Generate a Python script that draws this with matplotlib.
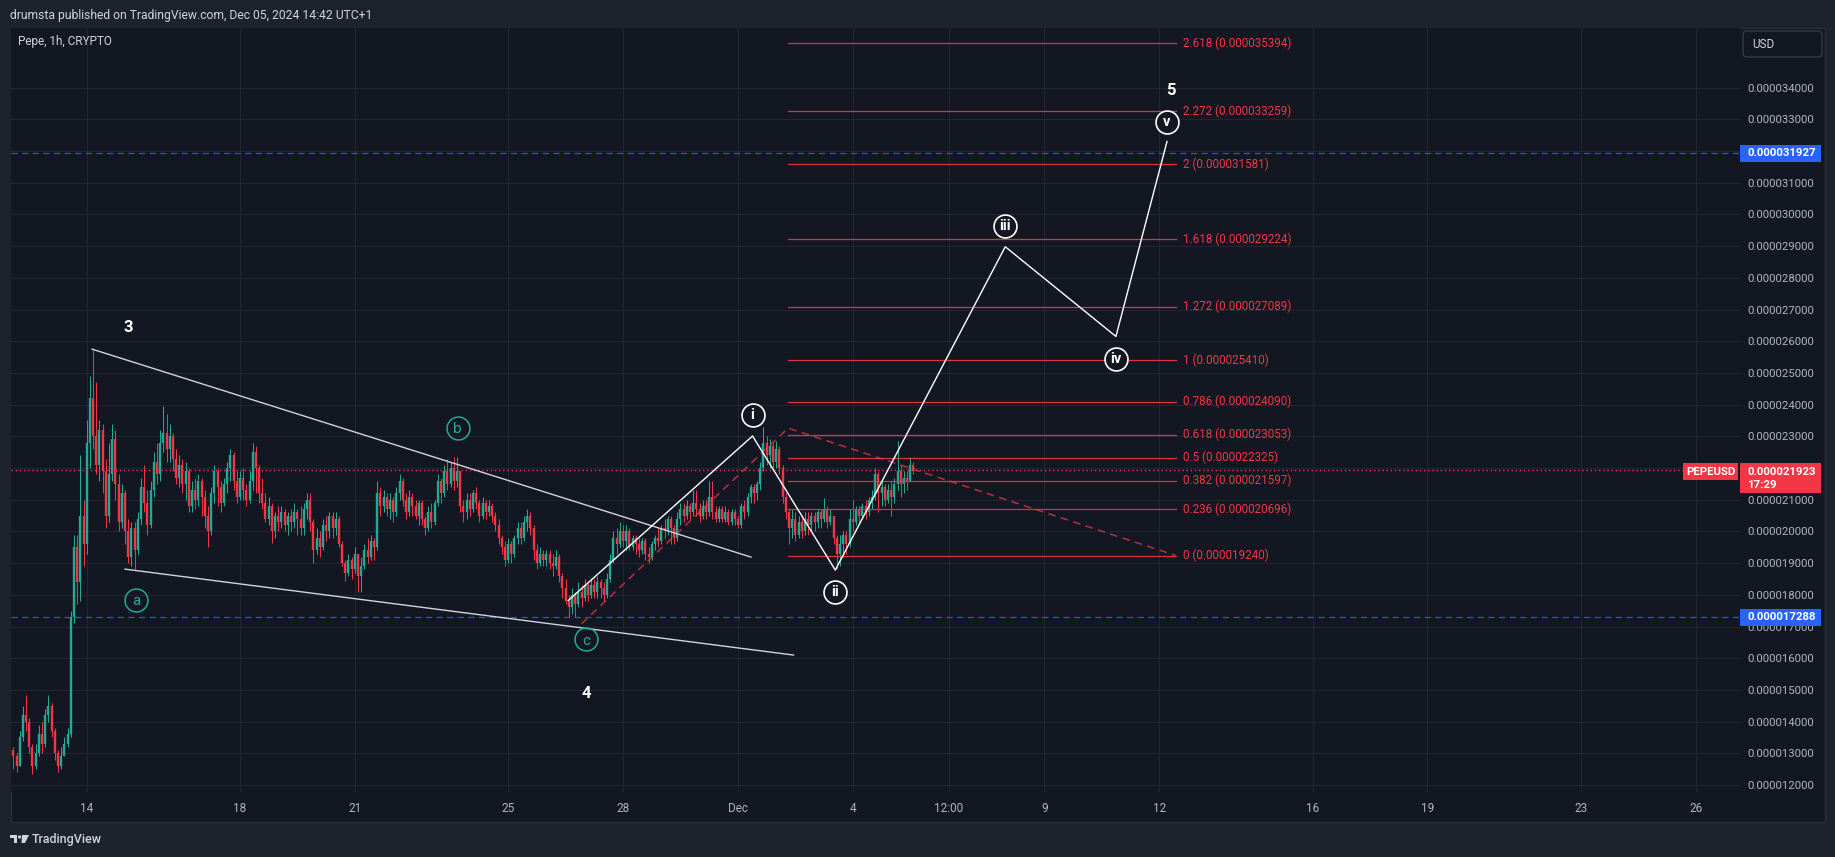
import matplotlib.pyplot as plt
import numpy as np
import pandas as pd
from matplotlib.patches import Rectangle, FancyBboxPatch, Circle, Polygon
from matplotlib.transforms import IdentityTransform, blended_transform_factory

plt.rcParams['font.family'] = ['Roboto', 'DejaVu Sans']

W, H = 1835, 857
OUTER = '#1e222d'
PANE = '#131722'
GRIDC = '#232632'
TXT = '#b2b5be'
UP = '#22ab94'
DOWN = '#f23645'
BLUE = '#2962ff'

# ---- PEPEUSD 2h candles, prices in millionths of USD ----
start = '2024-11-12 02:00'
first_open = 13.1
close = [
    12.9, 12.6, 13.5, 14.2, 14.0, 13.2, 12.6, 13.0, 13.6, 13.3,
    14.2, 14.5, 13.7, 13.0, 12.6, 12.9, 13.3, 13.6, 17.3, 19.5,
    18.4, 20.5, 19.6, 22.8, 24.2, 23.0, 22.1, 23.2, 21.9, 20.5,
    21.8, 22.9, 21.5, 20.3, 21.2, 20.0, 19.2, 20.1, 19.4, 20.4,
    21.4, 20.9, 20.2, 21.3, 22.2, 21.8, 22.8, 23.1, 22.6, 23.0,
    22.3, 21.7, 22.1, 21.5, 21.9, 20.8, 21.3, 21.0, 21.6, 21.1,
    20.5, 20.0, 21.2, 21.9, 21.4, 20.9, 21.5, 22.0, 22.4, 21.6,
    21.1, 21.7, 21.3, 21.0, 21.6, 22.5, 22.0, 21.2, 20.9, 20.4,
    20.8, 20.0, 20.5, 20.3, 20.6, 20.2, 20.5, 20.3, 20.6, 20.4,
    20.1, 20.7, 21.0, 20.3, 19.4, 19.8, 19.5, 20.2, 20.0, 20.5,
    20.1, 20.4, 19.6, 19.0, 18.7, 19.1, 18.8, 19.3, 18.6, 18.9,
    19.4, 19.2, 19.7, 19.5, 21.2, 20.8, 21.1, 20.7, 21.0, 20.6,
    21.2, 21.6, 21.0, 20.6, 21.1, 20.8, 20.5, 20.9, 20.4, 20.1,
    20.6, 20.3, 20.9, 21.6, 21.2, 21.9, 21.5, 22.0, 21.6, 21.9,
    20.8, 20.6, 21.0, 20.7, 21.2, 20.9, 20.5, 20.9, 20.6, 20.8,
    20.5, 20.2, 19.8, 19.5, 19.1, 19.6, 19.3, 19.8, 20.1, 19.8,
    20.3, 20.5, 20.1, 19.4, 19.0, 19.3, 19.1, 19.3, 19.0, 18.9,
    19.2, 18.6, 18.2, 17.8, 17.6, 18.0, 17.7, 18.1, 17.9, 18.3,
    18.0, 18.3, 18.1, 18.4, 18.2, 18.0, 18.5, 19.1, 19.8, 19.6,
    20.0, 19.7, 20.0, 19.5, 19.8, 19.6, 19.4, 19.7, 19.3, 19.2,
    19.6, 19.8, 19.7, 20.1, 20.0, 20.4, 20.1, 19.8, 20.4, 20.7,
    20.5, 20.8, 20.6, 20.9, 20.7, 20.5, 20.8, 20.6, 21.1, 20.6,
    20.4, 20.7, 20.4, 20.6, 20.3, 20.6, 20.4, 20.2, 20.8, 20.6,
    21.1, 21.4, 21.2, 21.5, 22.0, 22.8, 22.4, 22.7, 22.2, 22.6,
    22.0, 21.1, 20.6, 20.1, 20.4, 19.9, 20.3, 20.0, 20.4, 20.2,
    20.5, 20.3, 20.6, 20.4, 20.7, 20.3, 20.5, 19.8, 19.3, 19.6,
    19.9, 19.6, 20.4, 20.3, 20.7, 20.5, 20.8, 20.6, 21.0, 21.1,
    21.8, 21.2, 21.4, 21.0, 21.3, 21.1, 21.5, 21.9, 21.5, 21.7,
    21.6, 22.1, 21.923,
]
high = [
    13.2, 13.0, 13.7, 14.5, 14.85, 14.1, 13.3, 13.3, 13.9, 14.0,
    14.4, 14.85, 14.6, 13.8, 13.1, 13.2, 13.5, 13.8, 17.5, 19.9,
    19.9, 22.4, 21.0, 23.5, 24.9, 25.75, 24.7, 23.5, 23.4, 22.3,
    22.8, 23.4, 23.2, 21.8, 21.5, 21.3, 20.4, 20.3, 20.3, 20.6,
    21.7, 22.1, 21.3, 21.6, 22.5, 22.8, 23.2, 23.95, 23.7, 23.4,
    23.1, 22.6, 22.4, 22.3, 22.2, 22.0, 21.6, 21.7, 21.8, 21.7,
    21.3, 20.8, 21.4, 22.1, 22.0, 21.6, 21.7, 22.2, 22.6, 22.5,
    21.9, 21.9, 22.0, 21.5, 21.9, 22.8, 22.7, 22.1, 21.7, 21.2,
    21.1, 20.9, 20.6, 20.8, 20.8, 20.7, 20.6, 20.7, 20.9, 20.7,
    20.8, 20.9, 21.2, 21.2, 20.4, 20.1, 20.0, 20.4, 20.5, 20.6,
    20.6, 20.6, 20.5, 19.7, 19.1, 19.3, 19.2, 19.5, 19.3, 19.2,
    19.6, 19.8, 19.9, 19.8, 21.6, 21.4, 21.3, 21.2, 21.2, 21.1,
    21.4, 21.8, 21.7, 21.2, 21.3, 21.2, 21.0, 21.0, 21.0, 20.5,
    20.8, 20.9, 21.0, 21.8, 21.7, 22.1, 22.3, 22.2, 22.35, 22.35,
    21.9, 21.0, 21.2, 21.2, 21.3, 21.4, 21.0, 21.1, 21.0, 21.0,
    20.9, 20.6, 20.4, 19.9, 19.7, 19.8, 19.7, 19.9, 20.3, 20.3,
    20.5, 20.7, 20.6, 20.2, 19.6, 19.5, 19.4, 19.4, 19.4, 19.3,
    19.4, 19.3, 18.7, 18.5, 18.0, 18.2, 18.1, 18.4, 18.3, 18.5,
    18.4, 18.5, 18.5, 18.6, 18.5, 18.4, 18.7, 19.3, 20.0, 20.1,
    20.3, 20.2, 20.2, 20.1, 19.9, 19.9, 19.8, 19.8, 19.8, 19.5,
    19.7, 19.9, 20.1, 20.2, 20.4, 20.5, 20.5, 20.2, 20.6, 20.9,
    20.9, 21.0, 20.9, 21.3, 21.3, 20.9, 21.0, 21.0, 21.6, 21.6,
    20.8, 20.8, 20.8, 20.8, 20.7, 20.7, 20.7, 20.5, 20.9, 21.0,
    21.2, 21.5, 21.5, 21.6, 22.2, 23.3, 23.0, 22.9, 22.8, 22.85,
    22.7, 22.1, 21.2, 20.7, 20.7, 20.6, 20.5, 20.5, 20.6, 20.6,
    20.6, 20.6, 20.7, 20.7, 21.05, 20.8, 20.7, 20.5, 19.9, 19.9,
    20.0, 20.0, 20.7, 21.0, 20.8, 20.8, 20.9, 21.0, 21.1, 21.3,
    22.0, 21.9, 21.6, 21.5, 21.5, 21.6, 21.7, 22.85, 22.1, 21.9,
    21.9, 22.35, 22.2,
]
low = [
    12.5, 12.4, 12.6, 13.4, 13.7, 13.0, 12.35, 12.5, 12.9, 13.0,
    13.2, 14.0, 13.5, 12.8, 12.4, 12.5, 12.9, 13.2, 13.5, 17.1,
    17.7, 17.8, 18.9, 19.3, 22.0, 22.6, 21.8, 21.6, 21.2, 20.1,
    20.3, 21.6, 21.0, 20.0, 20.1, 19.6, 19.0, 18.9, 18.8, 19.3,
    20.2, 20.6, 19.9, 20.1, 21.1, 21.5, 21.6, 22.5, 22.2, 22.2,
    21.9, 21.5, 21.4, 21.2, 21.0, 20.6, 20.6, 20.7, 20.8, 20.5,
    20.1, 19.5, 19.9, 20.9, 20.8, 20.6, 20.8, 21.2, 21.6, 21.3,
    20.9, 21.0, 21.0, 20.8, 20.9, 21.3, 21.2, 20.9, 20.7, 20.3,
    20.2, 19.65, 19.8, 20.0, 20.1, 20.0, 19.9, 20.0, 20.1, 19.9,
    19.9, 19.9, 20.4, 20.0, 19.0, 19.3, 19.2, 19.4, 19.7, 19.8,
    19.8, 19.9, 19.5, 18.9, 18.45, 18.6, 18.5, 18.7, 18.1, 18.1,
    18.8, 19.0, 19.1, 19.1, 19.4, 20.5, 20.6, 20.5, 20.4, 20.3,
    20.5, 21.0, 20.8, 20.4, 20.5, 20.5, 20.4, 20.2, 20.2, 19.9,
    20.0, 20.1, 20.2, 20.8, 20.9, 21.1, 21.3, 21.4, 21.3, 21.4,
    20.6, 20.3, 20.4, 20.5, 20.6, 20.7, 20.3, 20.4, 20.4, 20.5,
    20.3, 20.0, 19.6, 19.3, 18.9, 19.0, 19.0, 19.2, 19.6, 19.6,
    19.7, 20.0, 19.9, 19.1, 18.8, 18.9, 18.9, 18.9, 18.8, 18.6,
    18.8, 18.4, 17.9, 17.7, 17.3, 17.4, 17.3, 17.6, 17.6, 17.8,
    17.8, 17.9, 17.9, 17.9, 17.9, 17.8, 17.9, 18.4, 19.0, 19.3,
    19.5, 19.5, 19.4, 19.4, 19.4, 19.3, 19.2, 19.3, 19.1, 19.0,
    19.1, 19.4, 19.5, 19.6, 19.8, 19.9, 19.6, 19.6, 19.7, 20.2,
    20.3, 20.4, 20.4, 20.5, 20.5, 20.3, 20.4, 20.4, 20.5, 20.4,
    20.3, 20.3, 20.3, 20.3, 20.2, 20.2, 20.2, 20.1, 20.1, 20.4,
    20.5, 20.9, 20.9, 21.0, 21.3, 21.9, 22.1, 22.0, 21.9, 22.0,
    21.8, 20.9, 20.4, 19.6, 19.8, 19.7, 19.8, 19.8, 19.9, 19.9,
    20.0, 20.0, 20.1, 20.1, 20.3, 20.1, 20.2, 19.6, 18.8, 18.9,
    19.2, 19.3, 19.5, 20.0, 20.2, 20.3, 20.4, 20.4, 20.5, 20.7,
    21.0, 20.6, 20.8, 20.8, 20.9, 20.5, 20.9, 21.3, 21.1, 21.2,
    21.3, 21.6, 21.8,
]

tick_dates = ['2024-11-14 00:00', '2024-11-18 00:00', '2024-11-21 00:00', '2024-11-25 00:00',
              '2024-11-28 00:00', '2024-12-01 00:00', '2024-12-04 00:00', '2024-12-06 12:00',
              '2024-12-09 00:00', '2024-12-12 00:00', '2024-12-16 00:00', '2024-12-19 00:00',
              '2024-12-23 00:00', '2024-12-26 00:00']
tick_labels = ['14', '18', '21', '25', '28', 'Dec', '4', '12:00', '9', '12', '16', '19', '23', '26']

# trend based fib extension
fib_names = ['0', '0.236', '0.382', '0.5', '0.618', '0.786', '1', '1.272', '1.618', '2', '2.272', '2.618']
fib_prices = [19.240, 20.696, 21.597, 22.325, 23.053, 24.090, 25.410, 27.089, 29.224, 31.581, 33.259, 35.394]
fib_t = ['2024-11-26 22:05', '2024-12-02 07:30', '2024-12-12 10:20']
fib_p = [17.09, 23.26, 19.24]

# drawings
upper_t = ['2024-11-14 03:20', '2024-12-01 08:10']
upper_p = [25.75, 19.19]
lower_t = ['2024-11-15 00:00', '2024-12-02 10:50']
lower_p = [18.81, 16.10]
wave_t = ['2024-11-26 13:40', '2024-12-01 09:10', '2024-12-03 13:00',
          '2024-12-07 23:30', '2024-12-10 20:50', '2024-12-12 04:50']
wave_p = [17.82, 23.01, 18.78, 28.98, 26.15, 32.30]

big_labels = ['3', '4', '5']
big_t = ['2024-11-15 02:00', '2024-11-27 01:10', '2024-12-12 07:30']
big_p = [26.42, 14.90, 33.90]
roman_labels = ['i', 'ii', 'iii', 'iv', 'v']
roman_t = ['2024-12-01 09:10', '2024-12-03 13:00', '2024-12-07 23:30', '2024-12-10 21:00', '2024-12-12 04:50']
roman_p = [23.67, 18.10, 29.62, 25.43, 32.93]
abc_labels = ['a', 'b', 'c']
abc_t = ['2024-11-15 07:00', '2024-11-23 16:20', '2024-11-27 01:00']
abc_p = [17.84, 23.27, 16.60]

alerts = [31.927, 17.288]
last_price = 21.923

REF = pd.Timestamp('2024-11-14')


def day(ts):
    return (pd.to_datetime(ts, format='mixed') - REF) / pd.Timedelta('1D')


def fx(x):
    return x / W


def fy(y):
    return 1 - y / H


fig = plt.figure(figsize=(W / 100, H / 100), dpi=100, facecolor=OUTER)
fig.add_artist(Rectangle((fx(11), fy(822)), fx(1825) - fx(11), fy(28) - fy(822),
                         transform=fig.transFigure, facecolor=PANE,
                         edgecolor='#2a2e39', lw=1, zorder=-5))
ax = fig.add_axes([fx(11), fy(792), fx(1740) - fx(11), fy(28) - fy(792)])
ax.set_facecolor(PANE)
for s in ax.spines.values():
    s.set_visible(False)

ax.set_xlim(-1.977, 43.16)
ax.set_ylim(11.78, 35.88)
ax.set_xticks(day(tick_dates))
ax.set_xticklabels(tick_labels)
ax.set_yticks(np.arange(12, 35))
ax.yaxis.tick_right()
ax.yaxis.set_major_formatter(lambda v, pos: f'{v / 1e6:.9f}')
ax.tick_params(length=0, colors=TXT)
ax.tick_params(axis='x', pad=7, labelsize=8.5)
ax.tick_params(axis='y', pad=5.5, labelsize=8.2)
ax.grid(True, color=GRIDC, lw=0.8, zorder=0)
ax.set_axisbelow(True)

# candles
t = pd.date_range(start, periods=len(close), freq='2h')
x = day(t).to_numpy()
c = np.array(close)
o = np.r_[first_open, c[:-1]]
cols = np.where(c >= o, UP, DOWN)
ax.vlines(x, low, high, colors=cols, lw=0.75, zorder=2)
ax.vlines(x, np.minimum(o, c), np.maximum(o, c), colors=cols, lw=1.7, zorder=2)

# horizontal price lines
for p in alerts:
    ax.axhline(p, color=BLUE, lw=0.9, alpha=0.85, ls=(0, (5, 3.5)), zorder=3)
ax.axhline(last_price, color=DOWN, lw=1, ls=(0, (1, 2)), zorder=3)

# fib extension
x0, x1 = day(fib_t[1]), day(fib_t[2])
for n, p in zip(fib_names, fib_prices):
    ax.plot([x0, x1], [p, p], color=DOWN, lw=0.9, alpha=0.9, zorder=3)
    ax.annotate(f'{n} ({p / 1e6:.9f})', (x1, p), xytext=(5.5, 0), textcoords='offset points',
                va='center', ha='left', color=DOWN, fontsize=8.4, zorder=4)
ax.plot(day(fib_t), fib_p, color=DOWN, lw=1.1, alpha=0.75, ls=(0, (5, 3.5)), zorder=3)

# wedge and wave drawings
ax.plot(day(upper_t), upper_p, color='#d1d4dc', lw=1.0, zorder=4)
ax.plot(day(lower_t), lower_p, color='#d1d4dc', lw=1.0, zorder=4)
ax.plot(day(wave_t), wave_p, color='white', lw=1.0, zorder=4)

for s, tt, p in zip(big_labels, big_t, big_p):
    ax.text(day(tt), p, s, color='white', fontsize=12, fontweight='bold',
            ha='center', va='center', zorder=6)
for s, tt, p in zip(roman_labels, roman_t, roman_p):
    ax.plot(day(tt), p, 'o', ms=16.5, mfc=PANE, mec='white', mew=1.2, zorder=5)
    ax.text(day(tt), p, s, color='white', fontsize=10.5, fontweight='bold',
            ha='center', va='center', zorder=6)
for s, tt, p in zip(abc_labels, abc_t, abc_p):
    ax.plot(day(tt), p, 'o', ms=16.5, mfc='none', mec=UP, mew=1.1, zorder=5)
    ax.text(day(tt), p - 0.05, s, color=UP, fontsize=11,
            ha='center', va='center', zorder=6)

# price axis labels
bt = blended_transform_factory(ax.transAxes, ax.transData)
aw = 1740 - 11


def axfrac(xp):
    return (xp - 11) / aw


for p in alerts:
    ax.add_patch(Rectangle((1.0, p - 0.27), axfrac(1821) - 1.0, 0.54, transform=bt,
                           facecolor=BLUE, edgecolor='none', clip_on=False, zorder=8))
    ax.text(axfrac(1747), p, f'{p / 1e6:.9f}', transform=bt, color='white',
            fontweight='bold', fontsize=8.2, va='center', ha='left', zorder=9)

ax.add_patch(Rectangle((1.0, last_price - 0.71), axfrac(1821) - 1.0, 0.95, transform=bt,
                       facecolor=DOWN, edgecolor='none', clip_on=False, zorder=8))
ax.text(axfrac(1747), last_price - 0.04, f'{last_price / 1e6:.9f}', transform=bt,
        color='white', fontweight='bold', fontsize=8.2, va='center', ha='left', zorder=9)
ax.text(axfrac(1747), last_price - 0.46, '17:29', transform=bt,
        color='white', fontweight='bold', fontsize=8.2, va='center', ha='left', zorder=9)
ax.add_patch(Rectangle((axfrac(1683), last_price - 0.30), axfrac(1738) - axfrac(1683), 0.54,
                       transform=bt, facecolor=DOWN, edgecolor='none', clip_on=False, zorder=8))
ax.text((axfrac(1683) + axfrac(1738)) / 2, last_price - 0.04, 'PEPEUSD', transform=bt,
        color='white', fontweight='bold', fontsize=8.2, va='center', ha='center', zorder=9)

# USD currency box
fig.add_artist(FancyBboxPatch((1743, H - 57), 79, 26, boxstyle='round,pad=0,rounding_size=4',
                              transform=IdentityTransform(), facecolor=PANE,
                              edgecolor='#363a45', lw=1))
fig.text(fx(1752), fy(44), 'USD', color='#d1d4dc', fontsize=8.5, va='center', ha='left')

# header texts
fig.text(fx(10), fy(16), 'drumsta published on TradingView.com, Dec 05, 2024 14:42 UTC+1',
         color='#d1d4dc', fontsize=8.7, va='center', ha='left')
fig.text(fx(18), fy(42), 'Pepe, 1h, CRYPTO', color='#d1d4dc', fontsize=8.5,
         va='center', ha='left')

# TradingView logo
LC = '#d1d4dc'
fig.add_artist(Rectangle((10, H - 838), 7, 3, transform=IdentityTransform(), facecolor=LC, lw=0))
fig.add_artist(Rectangle((14, H - 843), 3, 8, transform=IdentityTransform(), facecolor=LC, lw=0))
fig.add_artist(Circle((19.5, H - 837), 1.6, transform=IdentityTransform(), facecolor=LC, lw=0))
fig.add_artist(Polygon([(22, H - 835), (29, H - 835), (25, H - 843), (21.5, H - 843)],
                       transform=IdentityTransform(), facecolor=LC, lw=0))
fig.text(fx(32), fy(840), 'TradingView', color=LC, fontsize=9, fontweight='medium',
         va='center', ha='left')

fig.savefig('out.png', dpi=100, facecolor=OUTER)
